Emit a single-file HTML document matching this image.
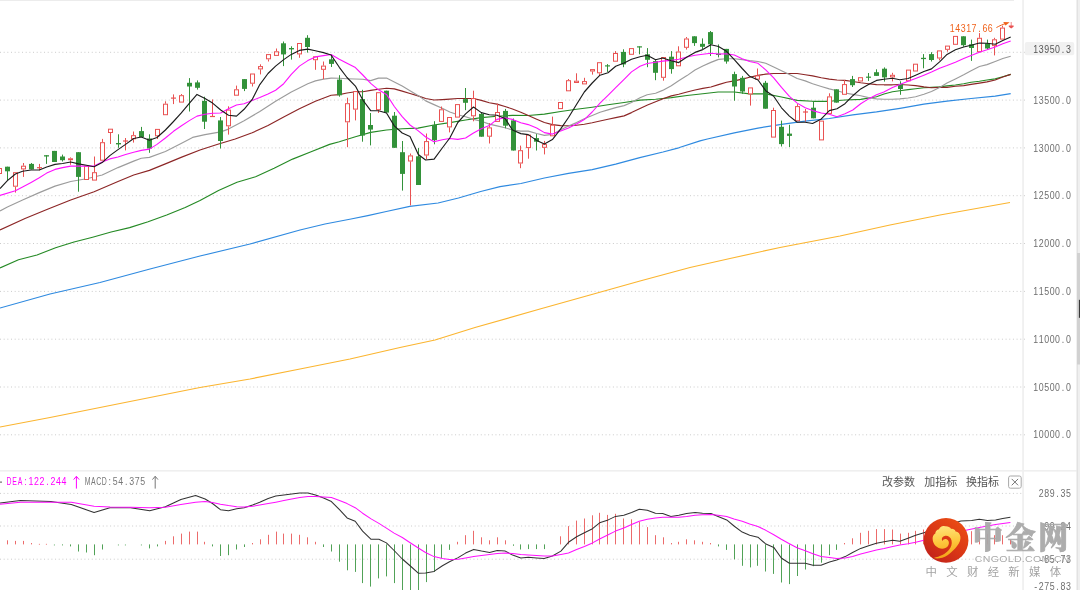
<!DOCTYPE html>
<html lang="zh-CN"><head><meta charset="utf-8"><title>K线图</title>
<style>
html,body{margin:0;padding:0;background:#fff;}
body{width:1080px;height:590px;overflow:hidden;font-family:"Liberation Sans","Noto Sans CJK SC",sans-serif;}
svg{display:block;}
</style></head><body>
<div style="will-change:transform;width:1080px;height:590px"><svg width="1080" height="590" viewBox="0 0 1080 590" font-family="'Liberation Sans', 'Noto Sans CJK SC', sans-serif">
<defs>
<linearGradient id="gc" x1="0.85" y1="0.1" x2="0.2" y2="0.9"><stop offset="0" stop-color="#ea4c14"/><stop offset="0.55" stop-color="#d93616"/><stop offset="1" stop-color="#c4241a"/></linearGradient>
<linearGradient id="gy" x1="0.4" y1="0" x2="0.5" y2="1"><stop offset="0" stop-color="#ffe47a"/><stop offset="0.5" stop-color="#fdc73c"/><stop offset="1" stop-color="#f3a016"/></linearGradient>
</defs>
<rect x="0" y="0" width="1014" height="1" fill="#ececec"/>
<rect x="1022.2" y="0" width="1.7" height="590" fill="#efefef"/>
<rect x="0" y="470" width="1076.5" height="1.6" fill="#efefef"/>
<rect x="1077" y="0" width="3" height="590" fill="#efefef"/>
<rect x="1076.6" y="0" width="1" height="590" fill="#dadada"/>
<rect x="1077" y="253" width="3" height="111.5" fill="#d1d1d1"/>
<rect x="1078.9" y="299.8" width="1.1" height="18" fill="#3a3a3a"/>
<line x1="0" y1="52.3" x2="1026" y2="52.3" stroke="#cbcbcb" stroke-width="1" stroke-dasharray="1 2.67"/>
<line x1="0" y1="100.1" x2="1026" y2="100.1" stroke="#cbcbcb" stroke-width="1" stroke-dasharray="1 2.67"/>
<line x1="0" y1="147.9" x2="1026" y2="147.9" stroke="#cbcbcb" stroke-width="1" stroke-dasharray="1 2.67"/>
<line x1="0" y1="195.7" x2="1026" y2="195.7" stroke="#cbcbcb" stroke-width="1" stroke-dasharray="1 2.67"/>
<line x1="0" y1="243.5" x2="1026" y2="243.5" stroke="#cbcbcb" stroke-width="1" stroke-dasharray="1 2.67"/>
<line x1="0" y1="291.4" x2="1026" y2="291.4" stroke="#cbcbcb" stroke-width="1" stroke-dasharray="1 2.67"/>
<line x1="0" y1="339.2" x2="1026" y2="339.2" stroke="#cbcbcb" stroke-width="1" stroke-dasharray="1 2.67"/>
<line x1="0" y1="387.0" x2="1026" y2="387.0" stroke="#cbcbcb" stroke-width="1" stroke-dasharray="1 2.67"/>
<line x1="0" y1="434.8" x2="1026" y2="434.8" stroke="#cbcbcb" stroke-width="1" stroke-dasharray="1 2.67"/>
<line x1="0" y1="493.4" x2="1022" y2="493.4" stroke="#cbcbcb" stroke-width="1" stroke-dasharray="1 2.67"/>
<line x1="0" y1="526.0" x2="1022" y2="526.0" stroke="#cbcbcb" stroke-width="1" stroke-dasharray="1 2.67"/>
<line x1="0" y1="559.2" x2="1022" y2="559.2" stroke="#cbcbcb" stroke-width="1" stroke-dasharray="1 2.67"/>
<polyline points="0.0,427.0 50.0,417.5 100.0,407.5 150.0,397.5 200.0,387.5 250.0,379.0 300.0,369.0 350.0,359.0 400.0,347.5 435.0,340.0 475.0,327.5 540.0,309.0 590.0,295.0 640.0,281.0 690.0,267.5 730.0,258.5 780.0,247.5 840.0,236.0 890.0,225.0 940.0,215.0 1010.0,202.5" fill="none" stroke="#fbb530" stroke-width="1.15" stroke-linejoin="round" />
<polyline points="0.0,308.0 50.0,294.0 100.0,282.5 150.0,269.0 200.0,256.0 250.0,244.0 300.0,230.0 325.0,224.0 351.0,219.0 367.8,215.6 386.3,211.5 409.8,206.3 438.1,203.0 458.5,198.0 480.7,191.5 500.0,186.7 520.9,183.5 544.4,178.0 568.5,173.3 592.2,169.6 615.7,164.1 639.8,157.6 663.0,152.0 678.7,147.8 700.0,140.9 707.4,139.0 734.3,132.8 758.0,128.1 781.5,124.4 805.2,121.1 829.3,118.5 852.8,114.8 876.5,111.9 900.0,108.3 923.9,104.1 947.0,101.1 971.1,98.5 995.2,96.1 1010.7,93.7" fill="none" stroke="#2f8ae0" stroke-width="1.2" stroke-linejoin="round" />
<polyline points="0.0,268.0 18.5,259.8 37.0,255.0 55.6,247.8 74.0,242.0 92.6,237.2 111.1,232.0 129.6,227.6 148.1,221.7 166.7,215.0 185.2,207.5 200.0,200.5 218.5,190.6 237.0,182.2 255.6,176.7 274.1,168.3 292.6,159.1 311.1,151.7 329.6,144.4 339.3,141.7 355.4,136.7 370.7,132.4 386.5,130.0 402.2,128.7 418.0,128.1 434.0,125.0 449.8,122.6 465.6,120.0 481.3,117.6 497.0,116.3 512.5,115.4 528.3,115.5 544.4,114.1 560.7,111.5 576.5,109.3 592.2,107.2 608.0,104.8 624.1,102.5 640.0,100.1 655.6,99.2 671.3,97.6 687.0,95.5 702.8,93.7 718.1,92.0 734.3,92.0 749.6,93.9 765.7,93.9 781.5,97.0 797.2,100.4 812.6,101.3 829.3,101.3 845.0,100.0 860.7,99.4 876.5,96.7 884.0,94.0 892.5,91.8 899.8,90.8 908.1,89.6 915.6,88.7 923.9,87.8 931.5,87.4 939.6,86.9 947.0,85.9 955.4,85.0 963.7,83.7 971.1,82.2 979.4,81.3 987.0,80.0 995.2,78.9 1002.8,76.7 1010.7,74.4" fill="none" stroke="#258a25" stroke-width="1.15" stroke-linejoin="round" />
<polyline points="0.0,230.0 25.0,218.5 48.1,209.0 70.7,200.0 94.1,191.7 118.0,181.5 133.7,175.0 149.4,170.4 165.4,163.9 181.1,157.4 200.0,150.0 217.0,144.5 235.2,139.0 252.2,132.8 268.0,125.4 283.7,117.0 299.4,108.7 315.4,101.3 331.1,95.2 339.3,94.6 347.0,93.0 355.4,91.7 362.8,91.7 370.7,90.4 378.5,89.3 386.5,88.3 394.3,88.9 402.2,91.1 410.0,93.5 418.0,95.9 425.7,98.5 434.0,100.0 442.2,99.6 449.8,99.1 457.8,98.5 465.6,98.5 473.5,98.5 481.3,100.4 489.3,102.8 497.0,104.1 505.0,106.5 512.5,109.0 520.8,112.2 528.3,115.6 536.7,119.3 544.4,122.5 552.4,124.6 560.7,125.6 568.5,125.8 576.5,125.2 584.3,124.2 592.2,122.8 600.0,121.0 608.0,119.3 615.7,117.6 624.1,115.9 631.5,112.6 640.0,108.5 647.5,105.0 655.6,101.8 663.0,98.8 671.3,95.9 678.7,94.3 687.0,92.0 695.0,90.0 702.8,88.4 710.9,87.0 718.5,84.6 726.5,82.2 734.3,80.9 742.2,79.1 749.6,77.2 758.0,75.4 765.7,74.1 773.7,73.5 781.5,73.5 789.4,73.5 797.2,73.5 805.2,74.8 812.6,75.9 821.3,77.8 829.3,79.1 837.0,80.0 845.0,80.4 852.8,81.5 860.7,82.8 868.5,83.7 876.5,84.6 884.0,84.8 892.5,84.8 899.8,84.5 908.1,85.0 915.6,85.6 923.9,86.9 931.5,87.8 939.6,87.4 947.0,87.4 955.4,86.3 963.7,85.6 971.1,84.4 979.4,83.1 987.0,81.9 995.2,80.0 1002.8,77.0 1010.7,74.4" fill="none" stroke="#8c2626" stroke-width="1.15" stroke-linejoin="round" />
<polyline points="0.0,211.0 7.4,207.0 22.6,200.0 39.3,192.6 55.0,186.1 70.7,181.5 86.5,178.7 102.2,175.0 118.0,167.6 133.7,161.1 141.3,158.3 149.4,157.4 165.4,151.5 181.1,143.5 192.6,137.4 205.0,134.6 220.7,131.9 228.5,129.1 244.1,120.7 259.8,111.5 275.6,101.3 291.3,92.0 307.8,83.7 315.4,80.9 323.5,79.1 331.1,78.1 339.3,78.3 347.0,78.7 362.8,79.3 370.7,80.6 378.5,78.1 386.5,78.1 394.3,81.9 402.2,86.1 410.0,90.7 418.0,95.4 425.7,100.9 434.0,104.6 442.2,108.3 449.8,112.0 457.8,114.8 465.6,116.7 473.5,119.4 481.3,121.3 489.3,124.1 497.0,125.9 505.0,127.8 512.5,130.0 520.8,131.1 528.3,131.1 536.7,133.5 544.4,135.4 552.4,134.4 560.7,129.8 568.5,126.1 576.5,122.6 584.3,118.7 592.2,115.5 600.0,112.2 608.0,109.9 615.7,107.6 624.1,105.6 631.5,102.5 640.0,97.8 647.2,94.8 655.6,93.2 662.6,90.4 671.3,85.7 678.7,80.7 687.0,75.6 695.0,70.0 702.8,66.0 710.9,62.4 718.5,59.4 726.5,58.7 734.3,58.7 742.2,59.6 749.6,60.6 758.0,61.5 765.7,63.3 773.7,67.0 781.5,70.7 789.4,74.4 797.2,78.5 805.2,80.9 812.6,83.7 821.3,86.5 829.3,88.9 837.0,90.7 845.0,93.0 852.8,94.4 860.7,95.7 868.5,97.6 876.5,98.9 884.0,99.2 892.5,99.3 899.8,98.9 908.1,98.0 915.6,96.7 923.9,94.3 931.5,91.5 939.6,87.4 947.0,83.1 955.4,78.9 963.7,74.8 971.1,70.7 979.4,66.5 987.0,64.6 995.2,61.5 1002.8,58.5 1010.7,56.3" fill="none" stroke="#9c9c9c" stroke-width="1.15" stroke-linejoin="round" />
<rect x="-2.5" y="168.5" width="4" height="5.0" fill="#fff" stroke="#e95252" stroke-width="1"/>
<line x1="7.5" y1="166.7" x2="7.5" y2="180.5" stroke="#33923a" stroke-width="1"/>
<rect x="5.0" y="166.7" width="5" height="4.6" fill="#33923a"/>
<line x1="15.5" y1="186.7" x2="15.5" y2="192.6" stroke="#e95252" stroke-width="1"/>
<rect x="13.5" y="172.7" width="4" height="13.5" fill="#fff" stroke="#e95252" stroke-width="1"/>
<line x1="23.5" y1="163.0" x2="23.5" y2="165.7" stroke="#e95252" stroke-width="1"/>
<line x1="23.5" y1="169.4" x2="23.5" y2="176.9" stroke="#e95252" stroke-width="1"/>
<rect x="21.5" y="166.2" width="4" height="2.7" fill="#fff" stroke="#e95252" stroke-width="1"/>
<line x1="31.5" y1="163.0" x2="31.5" y2="169.4" stroke="#33923a" stroke-width="1"/>
<rect x="29.0" y="163.9" width="5" height="5.5" fill="#33923a"/>
<line x1="39.5" y1="163.9" x2="39.5" y2="170.4" stroke="#e95252" stroke-width="1"/>
<line x1="37.0" y1="167.7" x2="42.0" y2="167.7" stroke="#e95252" stroke-width="1.2"/>
<line x1="46.5" y1="155.2" x2="46.5" y2="163.9" stroke="#33923a" stroke-width="1"/>
<rect x="44.0" y="155.2" width="5" height="1.3" fill="#33923a"/>
<line x1="54.5" y1="150.9" x2="54.5" y2="162.0" stroke="#33923a" stroke-width="1"/>
<rect x="52.0" y="150.9" width="5" height="11.1" fill="#33923a"/>
<line x1="62.5" y1="154.6" x2="62.5" y2="161.5" stroke="#33923a" stroke-width="1"/>
<rect x="60.0" y="156.5" width="5" height="3.7" fill="#33923a"/>
<line x1="70.5" y1="157.4" x2="70.5" y2="158.3" stroke="#e95252" stroke-width="1"/>
<line x1="70.5" y1="160.2" x2="70.5" y2="164.8" stroke="#e95252" stroke-width="1"/>
<rect x="68.5" y="158.8" width="4" height="0.9" fill="#fff" stroke="#e95252" stroke-width="1"/>
<line x1="78.5" y1="152.2" x2="78.5" y2="191.7" stroke="#33923a" stroke-width="1"/>
<rect x="76.0" y="152.2" width="5" height="24.7" fill="#33923a"/>
<rect x="84.5" y="166.2" width="4" height="13.3" fill="#fff" stroke="#e95252" stroke-width="1"/>
<line x1="94.5" y1="156.5" x2="94.5" y2="172.2" stroke="#e95252" stroke-width="1"/>
<rect x="92.5" y="172.7" width="4" height="7.4" fill="#fff" stroke="#e95252" stroke-width="1"/>
<line x1="102.5" y1="138.9" x2="102.5" y2="142.2" stroke="#e95252" stroke-width="1"/>
<rect x="100.5" y="142.7" width="4" height="17.5" fill="#fff" stroke="#e95252" stroke-width="1"/>
<line x1="110.5" y1="133.0" x2="110.5" y2="144.0" stroke="#e95252" stroke-width="1"/>
<rect x="108.5" y="129.2" width="4" height="3.3" fill="#fff" stroke="#e95252" stroke-width="1"/>
<line x1="118.5" y1="134.3" x2="118.5" y2="147.8" stroke="#33923a" stroke-width="1"/>
<rect x="116.0" y="143.0" width="5" height="1.4" fill="#33923a"/>
<line x1="125.5" y1="138.0" x2="125.5" y2="150.4" stroke="#e95252" stroke-width="1"/>
<line x1="123.0" y1="141.0" x2="128.0" y2="141.0" stroke="#e95252" stroke-width="1.2"/>
<line x1="133.5" y1="131.5" x2="133.5" y2="135.2" stroke="#e95252" stroke-width="1"/>
<line x1="133.5" y1="139.3" x2="133.5" y2="142.6" stroke="#e95252" stroke-width="1"/>
<rect x="131.5" y="135.7" width="4" height="3.1" fill="#fff" stroke="#e95252" stroke-width="1"/>
<line x1="141.5" y1="126.9" x2="141.5" y2="137.0" stroke="#33923a" stroke-width="1"/>
<rect x="139.0" y="131.1" width="5" height="5.9" fill="#33923a"/>
<line x1="149.5" y1="134.3" x2="149.5" y2="152.8" stroke="#33923a" stroke-width="1"/>
<rect x="147.0" y="138.5" width="5" height="10.0" fill="#33923a"/>
<line x1="157.5" y1="136.3" x2="157.5" y2="139.0" stroke="#e95252" stroke-width="1"/>
<rect x="155.5" y="129.4" width="4" height="6.4" fill="#fff" stroke="#e95252" stroke-width="1"/>
<line x1="165.5" y1="101.3" x2="165.5" y2="103.7" stroke="#e95252" stroke-width="1"/>
<rect x="163.5" y="104.2" width="4" height="10.5" fill="#fff" stroke="#e95252" stroke-width="1"/>
<line x1="173.5" y1="94.4" x2="173.5" y2="104.1" stroke="#e95252" stroke-width="1"/>
<line x1="171.0" y1="98.1" x2="176.0" y2="98.1" stroke="#e95252" stroke-width="1.2"/>
<line x1="181.5" y1="94.0" x2="181.5" y2="95.2" stroke="#e95252" stroke-width="1"/>
<rect x="179.5" y="95.7" width="4" height="6.4" fill="#fff" stroke="#e95252" stroke-width="1"/>
<line x1="189.5" y1="78.1" x2="189.5" y2="111.5" stroke="#33923a" stroke-width="1"/>
<rect x="187.0" y="82.8" width="5" height="3.7" fill="#33923a"/>
<line x1="197.5" y1="80.4" x2="197.5" y2="89.6" stroke="#33923a" stroke-width="1"/>
<rect x="195.0" y="82.4" width="5" height="5.4" fill="#33923a"/>
<line x1="204.5" y1="96.7" x2="204.5" y2="129.0" stroke="#33923a" stroke-width="1"/>
<rect x="202.0" y="100.9" width="5" height="20.8" fill="#33923a"/>
<line x1="212.5" y1="99.4" x2="212.5" y2="117.0" stroke="#e95252" stroke-width="1"/>
<line x1="210.0" y1="116.5" x2="215.0" y2="116.5" stroke="#e95252" stroke-width="1.2"/>
<line x1="220.5" y1="117.0" x2="220.5" y2="148.5" stroke="#33923a" stroke-width="1"/>
<rect x="218.0" y="120.4" width="5" height="20.6" fill="#33923a"/>
<line x1="228.5" y1="106.3" x2="228.5" y2="109.6" stroke="#e95252" stroke-width="1"/>
<line x1="228.5" y1="126.3" x2="228.5" y2="134.6" stroke="#e95252" stroke-width="1"/>
<rect x="226.5" y="110.1" width="4" height="15.7" fill="#fff" stroke="#e95252" stroke-width="1"/>
<line x1="236.5" y1="85.6" x2="236.5" y2="89.3" stroke="#e95252" stroke-width="1"/>
<rect x="234.5" y="89.8" width="4" height="5.4" fill="#fff" stroke="#e95252" stroke-width="1"/>
<line x1="244.5" y1="79.1" x2="244.5" y2="91.1" stroke="#33923a" stroke-width="1"/>
<rect x="242.0" y="79.1" width="5" height="9.8" fill="#33923a"/>
<line x1="252.5" y1="83.7" x2="252.5" y2="86.5" stroke="#e95252" stroke-width="1"/>
<rect x="250.5" y="74.0" width="4" height="9.2" fill="#fff" stroke="#e95252" stroke-width="1"/>
<line x1="260.5" y1="64.3" x2="260.5" y2="66.1" stroke="#e95252" stroke-width="1"/>
<line x1="260.5" y1="69.4" x2="260.5" y2="74.4" stroke="#e95252" stroke-width="1"/>
<rect x="258.5" y="66.6" width="4" height="2.3" fill="#fff" stroke="#e95252" stroke-width="1"/>
<line x1="268.5" y1="59.3" x2="268.5" y2="61.5" stroke="#e95252" stroke-width="1"/>
<rect x="266.5" y="54.6" width="4" height="4.2" fill="#fff" stroke="#e95252" stroke-width="1"/>
<line x1="276.5" y1="48.5" x2="276.5" y2="51.3" stroke="#e95252" stroke-width="1"/>
<rect x="274.5" y="51.8" width="4" height="3.6" fill="#fff" stroke="#e95252" stroke-width="1"/>
<line x1="283.5" y1="41.5" x2="283.5" y2="66.1" stroke="#33923a" stroke-width="1"/>
<rect x="281.0" y="43.3" width="5" height="11.1" fill="#33923a"/>
<line x1="291.5" y1="46.3" x2="291.5" y2="59.6" stroke="#33923a" stroke-width="1"/>
<rect x="289.0" y="48.0" width="5" height="1.4" fill="#33923a"/>
<line x1="299.5" y1="54.4" x2="299.5" y2="57.8" stroke="#e95252" stroke-width="1"/>
<rect x="297.5" y="43.5" width="4" height="10.4" fill="#fff" stroke="#e95252" stroke-width="1"/>
<line x1="307.5" y1="35.2" x2="307.5" y2="52.6" stroke="#33923a" stroke-width="1"/>
<rect x="305.0" y="37.8" width="5" height="9.2" fill="#33923a"/>
<line x1="315.5" y1="60.2" x2="315.5" y2="69.8" stroke="#e95252" stroke-width="1"/>
<rect x="313.5" y="56.8" width="4" height="2.9" fill="#fff" stroke="#e95252" stroke-width="1"/>
<line x1="323.5" y1="61.5" x2="323.5" y2="65.6" stroke="#e95252" stroke-width="1"/>
<line x1="323.5" y1="69.8" x2="323.5" y2="79.1" stroke="#e95252" stroke-width="1"/>
<rect x="321.5" y="66.1" width="4" height="3.2" fill="#fff" stroke="#e95252" stroke-width="1"/>
<line x1="331.5" y1="55.0" x2="331.5" y2="67.0" stroke="#33923a" stroke-width="1"/>
<rect x="329.0" y="59.3" width="5" height="4.6" fill="#33923a"/>
<line x1="339.5" y1="75.2" x2="339.5" y2="96.7" stroke="#33923a" stroke-width="1"/>
<rect x="337.0" y="79.6" width="5" height="15.7" fill="#33923a"/>
<line x1="347.5" y1="97.7" x2="347.5" y2="103.2" stroke="#e95252" stroke-width="1"/>
<line x1="347.5" y1="122.3" x2="347.5" y2="147.2" stroke="#e95252" stroke-width="1"/>
<rect x="345.5" y="103.7" width="4" height="18.1" fill="#fff" stroke="#e95252" stroke-width="1"/>
<line x1="355.5" y1="109.6" x2="355.5" y2="120.4" stroke="#e95252" stroke-width="1"/>
<rect x="353.5" y="91.6" width="4" height="17.5" fill="#fff" stroke="#e95252" stroke-width="1"/>
<line x1="362.5" y1="89.8" x2="362.5" y2="141.7" stroke="#33923a" stroke-width="1"/>
<rect x="360.0" y="99.1" width="5" height="36.5" fill="#33923a"/>
<line x1="370.5" y1="113.0" x2="370.5" y2="145.4" stroke="#33923a" stroke-width="1"/>
<rect x="368.0" y="125.0" width="5" height="4.6" fill="#33923a"/>
<line x1="378.5" y1="110.2" x2="378.5" y2="113.0" stroke="#e95252" stroke-width="1"/>
<rect x="376.5" y="92.7" width="4" height="17.0" fill="#fff" stroke="#e95252" stroke-width="1"/>
<line x1="386.5" y1="90.7" x2="386.5" y2="112.6" stroke="#33923a" stroke-width="1"/>
<rect x="384.0" y="90.7" width="5" height="21.9" fill="#33923a"/>
<line x1="394.5" y1="112.0" x2="394.5" y2="147.8" stroke="#33923a" stroke-width="1"/>
<rect x="392.0" y="115.7" width="5" height="32.1" fill="#33923a"/>
<line x1="402.5" y1="141.0" x2="402.5" y2="190.6" stroke="#33923a" stroke-width="1"/>
<rect x="400.0" y="152.2" width="5" height="21.7" fill="#33923a"/>
<line x1="410.5" y1="153.5" x2="410.5" y2="155.4" stroke="#e95252" stroke-width="1"/>
<line x1="410.5" y1="161.5" x2="410.5" y2="205.4" stroke="#e95252" stroke-width="1"/>
<rect x="408.5" y="155.9" width="4" height="5.1" fill="#fff" stroke="#e95252" stroke-width="1"/>
<line x1="418.5" y1="148.0" x2="418.5" y2="185.0" stroke="#33923a" stroke-width="1"/>
<rect x="416.0" y="156.3" width="5" height="28.7" fill="#33923a"/>
<line x1="426.5" y1="133.5" x2="426.5" y2="141.1" stroke="#e95252" stroke-width="1"/>
<line x1="426.5" y1="155.5" x2="426.5" y2="159.1" stroke="#e95252" stroke-width="1"/>
<rect x="424.5" y="141.6" width="4" height="13.4" fill="#fff" stroke="#e95252" stroke-width="1"/>
<line x1="434.5" y1="121.2" x2="434.5" y2="144.3" stroke="#33923a" stroke-width="1"/>
<rect x="432.0" y="124.9" width="5" height="15.3" fill="#33923a"/>
<line x1="441.5" y1="106.5" x2="441.5" y2="109.3" stroke="#e95252" stroke-width="1"/>
<rect x="439.5" y="109.8" width="4" height="11.6" fill="#fff" stroke="#e95252" stroke-width="1"/>
<line x1="449.5" y1="127.4" x2="449.5" y2="132.4" stroke="#e95252" stroke-width="1"/>
<rect x="447.5" y="117.5" width="4" height="9.4" fill="#fff" stroke="#e95252" stroke-width="1"/>
<rect x="455.5" y="104.6" width="4" height="12.5" fill="#fff" stroke="#e95252" stroke-width="1"/>
<line x1="465.5" y1="88.0" x2="465.5" y2="110.2" stroke="#33923a" stroke-width="1"/>
<rect x="463.0" y="99.1" width="5" height="3.7" fill="#33923a"/>
<line x1="473.5" y1="90.7" x2="473.5" y2="98.1" stroke="#e95252" stroke-width="1"/>
<line x1="473.5" y1="116.3" x2="473.5" y2="121.3" stroke="#e95252" stroke-width="1"/>
<rect x="471.5" y="98.6" width="4" height="17.2" fill="#fff" stroke="#e95252" stroke-width="1"/>
<line x1="481.5" y1="112.0" x2="481.5" y2="136.7" stroke="#33923a" stroke-width="1"/>
<rect x="479.0" y="113.9" width="5" height="22.8" fill="#33923a"/>
<line x1="489.5" y1="123.1" x2="489.5" y2="127.4" stroke="#e95252" stroke-width="1"/>
<line x1="489.5" y1="136.7" x2="489.5" y2="143.5" stroke="#e95252" stroke-width="1"/>
<rect x="487.5" y="127.9" width="4" height="8.3" fill="#fff" stroke="#e95252" stroke-width="1"/>
<line x1="497.5" y1="103.7" x2="497.5" y2="112.0" stroke="#e95252" stroke-width="1"/>
<rect x="495.5" y="112.5" width="4" height="8.9" fill="#fff" stroke="#e95252" stroke-width="1"/>
<line x1="505.5" y1="108.9" x2="505.5" y2="128.3" stroke="#33923a" stroke-width="1"/>
<rect x="503.0" y="110.9" width="5" height="14.8" fill="#33923a"/>
<line x1="513.5" y1="118.5" x2="513.5" y2="150.5" stroke="#33923a" stroke-width="1"/>
<rect x="511.0" y="120.4" width="5" height="30.1" fill="#33923a"/>
<line x1="520.5" y1="145.6" x2="520.5" y2="150.2" stroke="#e95252" stroke-width="1"/>
<line x1="520.5" y1="163.5" x2="520.5" y2="168.2" stroke="#e95252" stroke-width="1"/>
<rect x="518.5" y="150.7" width="4" height="12.3" fill="#fff" stroke="#e95252" stroke-width="1"/>
<line x1="528.5" y1="148.1" x2="528.5" y2="158.7" stroke="#e95252" stroke-width="1"/>
<rect x="526.5" y="135.1" width="4" height="12.5" fill="#fff" stroke="#e95252" stroke-width="1"/>
<line x1="536.5" y1="134.1" x2="536.5" y2="150.5" stroke="#33923a" stroke-width="1"/>
<rect x="534.0" y="138.1" width="5" height="3.6" fill="#33923a"/>
<line x1="544.5" y1="140.9" x2="544.5" y2="144.1" stroke="#e95252" stroke-width="1"/>
<line x1="544.5" y1="147.8" x2="544.5" y2="154.4" stroke="#e95252" stroke-width="1"/>
<rect x="542.5" y="144.6" width="4" height="2.7" fill="#fff" stroke="#e95252" stroke-width="1"/>
<line x1="552.5" y1="116.6" x2="552.5" y2="124.7" stroke="#e95252" stroke-width="1"/>
<rect x="550.5" y="125.2" width="4" height="10.6" fill="#fff" stroke="#e95252" stroke-width="1"/>
<rect x="558.5" y="102.5" width="4" height="6.1" fill="#fff" stroke="#e95252" stroke-width="1"/>
<line x1="568.5" y1="79.0" x2="568.5" y2="80.2" stroke="#e95252" stroke-width="1"/>
<rect x="566.5" y="80.7" width="4" height="10.1" fill="#fff" stroke="#e95252" stroke-width="1"/>
<line x1="576.5" y1="73.3" x2="576.5" y2="80.7" stroke="#e95252" stroke-width="1"/>
<rect x="574.5" y="81.2" width="4" height="1.3" fill="#fff" stroke="#e95252" stroke-width="1"/>
<line x1="584.5" y1="77.8" x2="584.5" y2="81.1" stroke="#e95252" stroke-width="1"/>
<rect x="582.5" y="81.6" width="4" height="2.3" fill="#fff" stroke="#e95252" stroke-width="1"/>
<line x1="592.5" y1="71.5" x2="592.5" y2="74.6" stroke="#e95252" stroke-width="1"/>
<rect x="590.5" y="69.6" width="4" height="1.4" fill="#fff" stroke="#e95252" stroke-width="1"/>
<line x1="599.5" y1="73.3" x2="599.5" y2="75.2" stroke="#e95252" stroke-width="1"/>
<rect x="597.5" y="62.7" width="4" height="10.1" fill="#fff" stroke="#e95252" stroke-width="1"/>
<line x1="607.5" y1="64.1" x2="607.5" y2="71.9" stroke="#33923a" stroke-width="1"/>
<line x1="605.0" y1="65.9" x2="610.0" y2="65.9" stroke="#33923a" stroke-width="1.2"/>
<line x1="615.5" y1="51.1" x2="615.5" y2="53.0" stroke="#e95252" stroke-width="1"/>
<rect x="613.5" y="53.5" width="4" height="7.7" fill="#fff" stroke="#e95252" stroke-width="1"/>
<line x1="623.5" y1="49.3" x2="623.5" y2="67.2" stroke="#33923a" stroke-width="1"/>
<rect x="621.0" y="51.9" width="5" height="12.5" fill="#33923a"/>
<rect x="629.5" y="48.6" width="4" height="5.7" fill="#fff" stroke="#e95252" stroke-width="1"/>
<line x1="639.5" y1="46.4" x2="639.5" y2="54.3" stroke="#33923a" stroke-width="1"/>
<line x1="637.0" y1="46.9" x2="642.0" y2="46.9" stroke="#33923a" stroke-width="1.2"/>
<line x1="647.5" y1="48.1" x2="647.5" y2="67.2" stroke="#33923a" stroke-width="1"/>
<rect x="645.0" y="54.3" width="5" height="5.5" fill="#33923a"/>
<line x1="655.5" y1="59.3" x2="655.5" y2="80.2" stroke="#33923a" stroke-width="1"/>
<rect x="653.0" y="61.1" width="5" height="11.7" fill="#33923a"/>
<line x1="663.5" y1="77.8" x2="663.5" y2="80.7" stroke="#e95252" stroke-width="1"/>
<rect x="661.5" y="57.5" width="4" height="19.8" fill="#fff" stroke="#e95252" stroke-width="1"/>
<line x1="671.5" y1="51.1" x2="671.5" y2="73.7" stroke="#33923a" stroke-width="1"/>
<rect x="669.0" y="56.7" width="5" height="12.4" fill="#33923a"/>
<line x1="678.5" y1="46.3" x2="678.5" y2="51.5" stroke="#e95252" stroke-width="1"/>
<rect x="676.5" y="52.0" width="4" height="13.8" fill="#fff" stroke="#e95252" stroke-width="1"/>
<line x1="686.5" y1="37.0" x2="686.5" y2="38.5" stroke="#e95252" stroke-width="1"/>
<line x1="686.5" y1="47.8" x2="686.5" y2="49.6" stroke="#e95252" stroke-width="1"/>
<rect x="684.5" y="39.0" width="4" height="8.3" fill="#fff" stroke="#e95252" stroke-width="1"/>
<line x1="694.5" y1="36.3" x2="694.5" y2="45.9" stroke="#33923a" stroke-width="1"/>
<rect x="692.0" y="36.3" width="5" height="6.8" fill="#33923a"/>
<line x1="702.5" y1="38.4" x2="702.5" y2="49.0" stroke="#33923a" stroke-width="1"/>
<rect x="700.0" y="43.8" width="5" height="3.0" fill="#33923a"/>
<line x1="710.5" y1="31.0" x2="710.5" y2="56.0" stroke="#33923a" stroke-width="1"/>
<rect x="708.0" y="32.1" width="5" height="12.2" fill="#33923a"/>
<line x1="718.5" y1="44.4" x2="718.5" y2="57.4" stroke="#33923a" stroke-width="1"/>
<rect x="716.0" y="53.7" width="5" height="1.3" fill="#33923a"/>
<line x1="726.5" y1="48.9" x2="726.5" y2="63.7" stroke="#33923a" stroke-width="1"/>
<rect x="724.0" y="48.9" width="5" height="12.6" fill="#33923a"/>
<line x1="734.5" y1="71.7" x2="734.5" y2="100.7" stroke="#33923a" stroke-width="1"/>
<rect x="732.0" y="74.1" width="5" height="12.4" fill="#33923a"/>
<line x1="742.5" y1="75.9" x2="742.5" y2="93.9" stroke="#33923a" stroke-width="1"/>
<rect x="740.0" y="77.8" width="5" height="13.7" fill="#33923a"/>
<line x1="750.5" y1="94.4" x2="750.5" y2="105.6" stroke="#e95252" stroke-width="1"/>
<rect x="748.5" y="87.9" width="4" height="6.0" fill="#fff" stroke="#e95252" stroke-width="1"/>
<line x1="757.5" y1="68.5" x2="757.5" y2="75.4" stroke="#e95252" stroke-width="1"/>
<rect x="755.5" y="75.9" width="4" height="3.2" fill="#fff" stroke="#e95252" stroke-width="1"/>
<line x1="765.5" y1="80.9" x2="765.5" y2="108.7" stroke="#33923a" stroke-width="1"/>
<rect x="763.0" y="82.8" width="5" height="25.9" fill="#33923a"/>
<line x1="773.5" y1="107.7" x2="773.5" y2="110.0" stroke="#e95252" stroke-width="1"/>
<rect x="771.5" y="110.5" width="4" height="26.6" fill="#fff" stroke="#e95252" stroke-width="1"/>
<line x1="781.5" y1="120.6" x2="781.5" y2="146.5" stroke="#33923a" stroke-width="1"/>
<rect x="779.0" y="126.8" width="5" height="17.3" fill="#33923a"/>
<line x1="789.5" y1="124.8" x2="789.5" y2="147.0" stroke="#33923a" stroke-width="1"/>
<rect x="787.0" y="133.6" width="5" height="2.3" fill="#33923a"/>
<line x1="797.5" y1="104.1" x2="797.5" y2="106.1" stroke="#e95252" stroke-width="1"/>
<rect x="795.5" y="106.6" width="4" height="14.2" fill="#fff" stroke="#e95252" stroke-width="1"/>
<line x1="805.5" y1="109.0" x2="805.5" y2="121.6" stroke="#e95252" stroke-width="1"/>
<line x1="803.0" y1="112.0" x2="808.0" y2="112.0" stroke="#e95252" stroke-width="1.2"/>
<line x1="813.5" y1="101.2" x2="813.5" y2="118.3" stroke="#33923a" stroke-width="1"/>
<rect x="811.0" y="107.7" width="5" height="10.6" fill="#33923a"/>
<rect x="819.5" y="121.1" width="4" height="18.8" fill="#fff" stroke="#e95252" stroke-width="1"/>
<line x1="829.5" y1="93.3" x2="829.5" y2="96.4" stroke="#e95252" stroke-width="1"/>
<rect x="827.5" y="96.9" width="4" height="16.5" fill="#fff" stroke="#e95252" stroke-width="1"/>
<line x1="836.5" y1="89.3" x2="836.5" y2="102.6" stroke="#33923a" stroke-width="1"/>
<rect x="834.0" y="89.3" width="5" height="13.3" fill="#33923a"/>
<line x1="844.5" y1="80.0" x2="844.5" y2="84.1" stroke="#e95252" stroke-width="1"/>
<rect x="842.5" y="84.6" width="4" height="9.7" fill="#fff" stroke="#e95252" stroke-width="1"/>
<line x1="852.5" y1="75.9" x2="852.5" y2="87.0" stroke="#33923a" stroke-width="1"/>
<rect x="850.0" y="79.1" width="5" height="6.1" fill="#33923a"/>
<rect x="858.5" y="77.7" width="4" height="3.3" fill="#fff" stroke="#e95252" stroke-width="1"/>
<line x1="868.5" y1="73.0" x2="868.5" y2="80.9" stroke="#33923a" stroke-width="1"/>
<line x1="866.0" y1="77.2" x2="871.0" y2="77.2" stroke="#33923a" stroke-width="1.2"/>
<line x1="876.5" y1="69.3" x2="876.5" y2="75.9" stroke="#33923a" stroke-width="1"/>
<rect x="874.0" y="72.2" width="5" height="3.7" fill="#33923a"/>
<line x1="884.5" y1="67.4" x2="884.5" y2="81.6" stroke="#33923a" stroke-width="1"/>
<rect x="882.0" y="68.7" width="5" height="8.7" fill="#33923a"/>
<line x1="892.5" y1="72.8" x2="892.5" y2="74.8" stroke="#e95252" stroke-width="1"/>
<line x1="892.5" y1="77.4" x2="892.5" y2="81.4" stroke="#e95252" stroke-width="1"/>
<rect x="890.5" y="75.3" width="4" height="1.6" fill="#fff" stroke="#e95252" stroke-width="1"/>
<line x1="900.5" y1="81.3" x2="900.5" y2="94.8" stroke="#33923a" stroke-width="1"/>
<rect x="898.0" y="83.9" width="5" height="5.1" fill="#33923a"/>
<rect x="906.5" y="70.1" width="4" height="10.7" fill="#fff" stroke="#e95252" stroke-width="1"/>
<rect x="913.5" y="64.2" width="4" height="6.8" fill="#fff" stroke="#e95252" stroke-width="1"/>
<line x1="923.5" y1="54.1" x2="923.5" y2="68.3" stroke="#33923a" stroke-width="1"/>
<rect x="921.0" y="57.8" width="5" height="1.3" fill="#33923a"/>
<line x1="931.5" y1="52.2" x2="931.5" y2="61.5" stroke="#33923a" stroke-width="1"/>
<rect x="929.0" y="54.1" width="5" height="5.9" fill="#33923a"/>
<line x1="939.5" y1="58.5" x2="939.5" y2="60.4" stroke="#e95252" stroke-width="1"/>
<rect x="937.5" y="50.9" width="4" height="7.1" fill="#fff" stroke="#e95252" stroke-width="1"/>
<line x1="947.5" y1="49.8" x2="947.5" y2="51.7" stroke="#e95252" stroke-width="1"/>
<rect x="945.5" y="46.1" width="4" height="3.2" fill="#fff" stroke="#e95252" stroke-width="1"/>
<rect x="953.5" y="36.4" width="4" height="7.9" fill="#fff" stroke="#e95252" stroke-width="1"/>
<line x1="963.5" y1="36.3" x2="963.5" y2="46.7" stroke="#33923a" stroke-width="1"/>
<rect x="961.0" y="36.3" width="5" height="8.9" fill="#33923a"/>
<line x1="971.5" y1="39.6" x2="971.5" y2="60.9" stroke="#33923a" stroke-width="1"/>
<rect x="969.0" y="44.3" width="5" height="3.7" fill="#33923a"/>
<line x1="979.5" y1="33.1" x2="979.5" y2="37.8" stroke="#e95252" stroke-width="1"/>
<rect x="977.5" y="38.3" width="4" height="13.4" fill="#fff" stroke="#e95252" stroke-width="1"/>
<line x1="987.5" y1="39.6" x2="987.5" y2="49.8" stroke="#33923a" stroke-width="1"/>
<rect x="985.0" y="43.3" width="5" height="5.2" fill="#33923a"/>
<line x1="994.5" y1="37.8" x2="994.5" y2="39.3" stroke="#e95252" stroke-width="1"/>
<line x1="994.5" y1="46.1" x2="994.5" y2="55.4" stroke="#e95252" stroke-width="1"/>
<rect x="992.5" y="39.8" width="4" height="5.8" fill="#fff" stroke="#e95252" stroke-width="1"/>
<line x1="1002.5" y1="25.7" x2="1002.5" y2="27.6" stroke="#e95252" stroke-width="1"/>
<rect x="1000.5" y="28.1" width="4" height="11.0" fill="#fff" stroke="#e95252" stroke-width="1"/>
<line x1="1011.2" y1="22" x2="1011.2" y2="26" stroke="#f08a8a" stroke-width="1"/>
<path d="M1008.8,25.6 h4.8 v1.2 l-2.4,1.6 l-2.4,-1.6z" fill="#e95252"/>
<polyline points="0.0,195.4 15.4,190.7 22.6,187.0 31.1,182.4 39.3,177.8 46.7,173.1 55.0,169.4 62.6,167.6 70.7,166.1 78.5,166.1 86.5,166.1 94.1,166.1 102.2,162.0 109.8,158.9 118.0,157.0 125.6,154.6 133.7,152.2 141.3,150.4 149.4,149.1 157.0,144.4 165.4,138.0 173.5,131.3 181.1,126.0 189.3,120.6 197.0,116.1 205.0,114.3 212.6,113.3 220.7,113.0 228.5,108.7 236.5,105.0 244.1,103.7 252.2,100.4 259.8,97.6 268.0,93.9 275.6,90.2 283.7,83.7 291.3,74.4 299.4,66.1 307.8,60.6 315.4,56.9 323.5,55.6 331.1,54.5 339.3,59.2 347.0,63.3 355.4,67.6 362.8,75.0 370.7,83.3 378.5,89.8 386.5,94.4 394.3,106.5 402.2,116.7 410.0,125.0 418.0,130.6 425.7,137.0 434.0,141.7 442.2,139.8 449.8,138.5 457.8,139.4 465.6,138.0 473.5,133.0 481.3,128.7 489.3,125.6 497.0,119.4 505.0,117.8 512.5,119.4 520.8,122.8 528.2,124.6 536.7,128.0 544.4,132.6 552.4,134.1 560.7,131.1 568.5,128.0 576.5,124.0 584.3,119.6 592.2,112.0 600.0,103.2 608.0,95.3 615.7,87.6 624.1,79.3 631.5,71.9 640.0,66.3 647.2,63.5 655.6,62.2 662.6,61.1 671.3,60.4 678.7,59.3 687.0,57.0 695.0,55.2 702.8,54.2 710.9,53.2 718.5,54.0 726.5,53.7 734.3,55.0 742.2,58.7 749.6,61.5 758.0,63.3 765.7,69.8 773.7,77.8 781.5,87.4 789.4,96.3 797.2,103.1 805.2,107.8 812.6,110.6 821.3,113.0 829.3,114.3 837.0,116.7 845.0,113.7 852.8,110.0 860.7,103.7 868.5,98.9 876.5,94.8 883.9,92.0 892.5,87.6 899.8,84.5 908.1,81.3 915.6,78.5 923.9,75.2 931.5,72.0 939.6,68.3 947.0,65.6 955.4,62.2 963.7,58.5 971.1,55.4 979.4,52.2 987.0,49.8 995.2,47.0 1002.8,43.7 1010.7,41.1" fill="none" stroke="#ff10ff" stroke-width="1.1" stroke-linejoin="round" />
<polyline points="0.0,188.5 7.4,180.6 15.4,174.0 22.6,171.3 31.1,170.0 39.3,170.0 46.7,167.0 55.0,164.4 62.6,163.5 70.7,162.0 78.5,163.9 86.5,165.2 94.1,166.7 102.2,162.6 109.8,155.6 118.0,149.6 125.6,144.4 133.7,138.5 141.3,137.0 149.4,140.2 157.0,137.5 165.4,130.0 173.5,121.5 181.1,113.2 189.3,103.4 197.0,94.4 205.0,98.5 212.6,103.1 220.7,110.0 228.5,115.2 236.5,116.1 244.1,109.3 252.2,99.4 259.8,84.6 268.0,73.5 275.6,66.1 283.7,59.6 291.3,54.4 299.4,50.4 307.8,49.1 315.4,50.7 323.5,52.6 331.1,55.0 339.3,67.3 347.0,77.5 355.4,86.1 362.8,100.0 370.7,110.7 378.5,110.7 386.5,113.0 394.3,125.9 402.2,133.0 410.0,136.5 418.3,154.5 425.6,160.0 434.1,159.1 441.9,148.5 449.8,138.0 457.8,122.5 465.6,113.9 473.5,107.0 481.3,112.6 489.3,114.8 497.0,115.2 505.0,118.5 512.5,130.0 520.8,133.6 528.2,134.6 536.7,140.4 544.4,144.1 552.4,139.6 560.7,128.9 568.5,117.5 576.5,104.5 584.3,92.0 592.2,83.0 600.0,75.2 608.0,72.8 615.7,66.3 624.1,63.0 631.5,59.3 640.0,56.7 647.2,55.2 655.6,59.8 662.6,58.0 671.3,60.7 678.7,62.6 687.0,57.0 695.0,52.4 702.8,49.6 710.9,44.7 718.5,46.5 726.5,51.3 734.3,59.6 742.2,68.5 749.6,76.3 758.0,80.0 765.7,90.7 773.7,96.3 781.5,107.8 789.4,116.1 797.2,122.2 805.2,122.2 812.6,123.5 821.3,118.9 829.3,110.6 837.0,108.7 845.0,103.7 852.8,95.7 860.7,88.9 868.5,84.6 876.5,80.4 883.9,79.2 892.5,78.2 899.8,79.8 908.1,78.5 915.6,75.2 923.9,71.5 931.5,68.9 939.6,61.9 947.0,54.4 955.4,49.8 963.7,47.0 971.1,45.2 979.4,43.0 987.0,43.3 995.2,44.3 1002.8,40.6 1010.7,36.9" fill="none" stroke="#1c1c1c" stroke-width="1.15" stroke-linejoin="round" />
<text transform="scale(0.84,1)" x="1133.71 1140.17 1146.64 1153.10 1159.57 1166.03 1172.49 1178.96" y="31.6" fill="#f0611a" font-size="10.5" text-anchor="middle" >14317.66</text>
<path d="M996.4,27.6 C999.5,25.8 1003,24.2 1006.5,23.4" fill="none" stroke="#f0611a" stroke-width="1"/>
<path d="M1003.2,22.1 L1009.6,22.2 L1005.6,25.6z" fill="#f0611a"/>
<rect x="1024.8" y="42" width="49.4" height="13.2" rx="2" fill="#f1f1f1"/>
<text transform="scale(0.84,1)" x="1233.07 1239.55 1246.04 1252.53 1259.02 1265.51 1271.99" y="52.9" fill="#555" font-size="10.5" text-anchor="middle" >13950.3</text>
<text transform="scale(0.84,1)" x="1233.07 1239.55 1246.04 1252.53 1259.02 1265.51 1271.99" y="103.71" fill="#6e6e6e" font-size="10.5" text-anchor="middle" >13500.0</text>
<text transform="scale(0.84,1)" x="1233.07 1239.55 1246.04 1252.53 1259.02 1265.51 1271.99" y="151.52" fill="#6e6e6e" font-size="10.5" text-anchor="middle" >13000.0</text>
<text transform="scale(0.84,1)" x="1233.07 1239.55 1246.04 1252.53 1259.02 1265.51 1271.99" y="199.33" fill="#6e6e6e" font-size="10.5" text-anchor="middle" >12500.0</text>
<text transform="scale(0.84,1)" x="1233.07 1239.55 1246.04 1252.53 1259.02 1265.51 1271.99" y="247.14000000000001" fill="#6e6e6e" font-size="10.5" text-anchor="middle" >12000.0</text>
<text transform="scale(0.84,1)" x="1233.07 1239.55 1246.04 1252.53 1259.02 1265.51 1271.99" y="294.95000000000005" fill="#6e6e6e" font-size="10.5" text-anchor="middle" >11500.0</text>
<text transform="scale(0.84,1)" x="1233.07 1239.55 1246.04 1252.53 1259.02 1265.51 1271.99" y="342.76000000000005" fill="#6e6e6e" font-size="10.5" text-anchor="middle" >11000.0</text>
<text transform="scale(0.84,1)" x="1233.07 1239.55 1246.04 1252.53 1259.02 1265.51 1271.99" y="390.57000000000005" fill="#6e6e6e" font-size="10.5" text-anchor="middle" >10500.0</text>
<text transform="scale(0.84,1)" x="1233.07 1239.55 1246.04 1252.53 1259.02 1265.51 1271.99" y="438.38000000000005" fill="#6e6e6e" font-size="10.5" text-anchor="middle" >10000.0</text>
<rect x="0" y="481.6" width="2" height="1" fill="#555"/>
<text transform="scale(0.66,1)" x="13.71 22.05 30.38" y="485.5" fill="#ff00ff" font-size="10.5" text-anchor="middle" >DEA</text>
<text transform="scale(0.84,1)" x="30.42 36.96 43.51 50.06 56.61 63.15 69.70 76.25" y="485.5" fill="#ff00ff" font-size="10.5" text-anchor="middle" >:122.244</text>
<path d="M76.4,476.3 V488.6 M73.6,479.6 L76.4,476.3 L79.2,479.6" fill="none" stroke="#ff00ff" stroke-width="1"/>
<text transform="scale(0.66,1)" x="132.95 141.29 149.62 157.95" y="485.5" fill="#777" font-size="10.5" text-anchor="middle" >MACD</text>
<text transform="scale(0.84,1)" x="130.65 137.20 143.75 150.30 156.85 163.39 169.94" y="485.5" fill="#777" font-size="10.5" text-anchor="middle" >:54.375</text>
<path d="M155.2,476.3 V488.6 M152.4,479.6 L155.2,476.3 L158,479.6" fill="none" stroke="#777" stroke-width="1"/>
<line x1="7.5" y1="544.4" x2="7.5" y2="540.3" stroke="#e95252" stroke-width="1" opacity="0.85"/>
<line x1="15.5" y1="544.4" x2="15.5" y2="540.9" stroke="#e95252" stroke-width="1" opacity="0.85"/>
<line x1="23.5" y1="544.4" x2="23.5" y2="540.9" stroke="#e95252" stroke-width="1" opacity="0.85"/>
<line x1="31.5" y1="544.4" x2="31.5" y2="543.0" stroke="#e95252" stroke-width="1" opacity="0.85"/>
<rect x="38.9" y="543.8" width="1.1" height="1.1" fill="#e95252" opacity="0.6"/>
<rect x="45.9" y="543.8" width="1.1" height="1.1" fill="#e95252" opacity="0.6"/>
<rect x="53.9" y="544.4" width="1.1" height="1.1" fill="#33923a" opacity="0.6"/>
<line x1="62.5" y1="544.4" x2="62.5" y2="545.4" stroke="#33923a" stroke-width="1" opacity="0.85"/>
<line x1="70.5" y1="544.4" x2="70.5" y2="546.4" stroke="#33923a" stroke-width="1" opacity="0.85"/>
<line x1="78.5" y1="544.4" x2="78.5" y2="551.5" stroke="#33923a" stroke-width="1" opacity="0.85"/>
<line x1="86.5" y1="544.4" x2="86.5" y2="552.5" stroke="#33923a" stroke-width="1" opacity="0.85"/>
<line x1="94.5" y1="544.4" x2="94.5" y2="555.2" stroke="#33923a" stroke-width="1" opacity="0.85"/>
<line x1="102.5" y1="544.4" x2="102.5" y2="549.5" stroke="#33923a" stroke-width="1" opacity="0.85"/>
<rect x="117.9" y="544.4" width="1.1" height="1.1" fill="#33923a" opacity="0.6"/>
<rect x="124.9" y="544.4" width="1.1" height="1.1" fill="#33923a" opacity="0.6"/>
<rect x="140.9" y="544.4" width="1.1" height="1.1" fill="#33923a" opacity="0.6"/>
<line x1="149.5" y1="544.4" x2="149.5" y2="548.4" stroke="#33923a" stroke-width="1" opacity="0.85"/>
<line x1="157.5" y1="544.4" x2="157.5" y2="546.4" stroke="#33923a" stroke-width="1" opacity="0.85"/>
<line x1="165.5" y1="544.4" x2="165.5" y2="540.9" stroke="#e95252" stroke-width="1" opacity="0.85"/>
<line x1="173.5" y1="544.4" x2="173.5" y2="536.3" stroke="#e95252" stroke-width="1" opacity="0.85"/>
<line x1="181.5" y1="544.4" x2="181.5" y2="533.6" stroke="#e95252" stroke-width="1" opacity="0.85"/>
<line x1="189.5" y1="544.4" x2="189.5" y2="531.6" stroke="#e95252" stroke-width="1" opacity="0.85"/>
<line x1="197.5" y1="544.4" x2="197.5" y2="531.6" stroke="#e95252" stroke-width="1" opacity="0.85"/>
<line x1="204.5" y1="544.4" x2="204.5" y2="541.8" stroke="#e95252" stroke-width="1" opacity="0.85"/>
<line x1="212.5" y1="544.4" x2="212.5" y2="546.4" stroke="#33923a" stroke-width="1" opacity="0.85"/>
<line x1="220.5" y1="544.4" x2="220.5" y2="556.0" stroke="#33923a" stroke-width="1" opacity="0.85"/>
<line x1="228.5" y1="544.4" x2="228.5" y2="555.2" stroke="#33923a" stroke-width="1" opacity="0.85"/>
<line x1="236.5" y1="544.4" x2="236.5" y2="549.5" stroke="#33923a" stroke-width="1" opacity="0.85"/>
<line x1="244.5" y1="544.4" x2="244.5" y2="547.0" stroke="#33923a" stroke-width="1" opacity="0.85"/>
<line x1="252.5" y1="544.4" x2="252.5" y2="543.0" stroke="#e95252" stroke-width="1" opacity="0.85"/>
<line x1="260.5" y1="544.4" x2="260.5" y2="539.3" stroke="#e95252" stroke-width="1" opacity="0.85"/>
<line x1="268.5" y1="544.4" x2="268.5" y2="534.8" stroke="#e95252" stroke-width="1" opacity="0.85"/>
<line x1="276.5" y1="544.4" x2="276.5" y2="531.6" stroke="#e95252" stroke-width="1" opacity="0.85"/>
<line x1="283.5" y1="544.4" x2="283.5" y2="533.6" stroke="#e95252" stroke-width="1" opacity="0.85"/>
<line x1="291.5" y1="544.4" x2="291.5" y2="533.6" stroke="#e95252" stroke-width="1" opacity="0.85"/>
<line x1="299.5" y1="544.4" x2="299.5" y2="534.8" stroke="#e95252" stroke-width="1" opacity="0.85"/>
<line x1="307.5" y1="544.4" x2="307.5" y2="537.3" stroke="#e95252" stroke-width="1" opacity="0.85"/>
<line x1="315.5" y1="544.4" x2="315.5" y2="541.8" stroke="#e95252" stroke-width="1" opacity="0.85"/>
<line x1="323.5" y1="544.4" x2="323.5" y2="547.0" stroke="#33923a" stroke-width="1" opacity="0.85"/>
<line x1="331.5" y1="544.4" x2="331.5" y2="551.5" stroke="#33923a" stroke-width="1" opacity="0.85"/>
<line x1="339.5" y1="544.4" x2="339.5" y2="561.7" stroke="#33923a" stroke-width="1" opacity="0.85"/>
<line x1="347.5" y1="544.4" x2="347.5" y2="570.3" stroke="#33923a" stroke-width="1" opacity="0.85"/>
<line x1="355.5" y1="544.4" x2="355.5" y2="571.9" stroke="#33923a" stroke-width="1" opacity="0.85"/>
<line x1="362.5" y1="544.4" x2="362.5" y2="583.1" stroke="#33923a" stroke-width="1" opacity="0.85"/>
<line x1="370.5" y1="544.4" x2="370.5" y2="586.6" stroke="#33923a" stroke-width="1" opacity="0.85"/>
<line x1="378.5" y1="544.4" x2="378.5" y2="578.4" stroke="#33923a" stroke-width="1" opacity="0.85"/>
<line x1="386.5" y1="544.4" x2="386.5" y2="576.4" stroke="#33923a" stroke-width="1" opacity="0.85"/>
<line x1="394.5" y1="544.4" x2="394.5" y2="583.1" stroke="#33923a" stroke-width="1" opacity="0.85"/>
<line x1="402.5" y1="544.4" x2="402.5" y2="590.0" stroke="#33923a" stroke-width="1" opacity="0.85"/>
<line x1="410.5" y1="544.4" x2="410.5" y2="590.0" stroke="#33923a" stroke-width="1" opacity="0.85"/>
<line x1="418.5" y1="544.4" x2="418.5" y2="590.0" stroke="#33923a" stroke-width="1" opacity="0.85"/>
<line x1="426.5" y1="544.4" x2="426.5" y2="582.1" stroke="#33923a" stroke-width="1" opacity="0.85"/>
<line x1="434.5" y1="544.4" x2="434.5" y2="571.9" stroke="#33923a" stroke-width="1" opacity="0.85"/>
<line x1="441.5" y1="544.4" x2="441.5" y2="558.0" stroke="#33923a" stroke-width="1" opacity="0.85"/>
<line x1="449.5" y1="544.4" x2="449.5" y2="549.9" stroke="#33923a" stroke-width="1" opacity="0.85"/>
<line x1="457.5" y1="544.4" x2="457.5" y2="541.8" stroke="#e95252" stroke-width="1" opacity="0.85"/>
<line x1="465.5" y1="544.4" x2="465.5" y2="535.2" stroke="#e95252" stroke-width="1" opacity="0.85"/>
<line x1="473.5" y1="544.4" x2="473.5" y2="530.8" stroke="#e95252" stroke-width="1" opacity="0.85"/>
<line x1="481.5" y1="544.4" x2="481.5" y2="537.3" stroke="#e95252" stroke-width="1" opacity="0.85"/>
<line x1="489.5" y1="544.4" x2="489.5" y2="540.3" stroke="#e95252" stroke-width="1" opacity="0.85"/>
<line x1="497.5" y1="544.4" x2="497.5" y2="537.3" stroke="#e95252" stroke-width="1" opacity="0.85"/>
<line x1="505.5" y1="544.4" x2="505.5" y2="540.3" stroke="#e95252" stroke-width="1" opacity="0.85"/>
<line x1="513.5" y1="544.4" x2="513.5" y2="545.8" stroke="#33923a" stroke-width="1" opacity="0.85"/>
<line x1="520.5" y1="544.4" x2="520.5" y2="549.5" stroke="#33923a" stroke-width="1" opacity="0.85"/>
<line x1="528.5" y1="544.4" x2="528.5" y2="549.1" stroke="#33923a" stroke-width="1" opacity="0.85"/>
<line x1="536.5" y1="544.4" x2="536.5" y2="549.1" stroke="#33923a" stroke-width="1" opacity="0.85"/>
<line x1="544.5" y1="544.4" x2="544.5" y2="549.1" stroke="#33923a" stroke-width="1" opacity="0.85"/>
<line x1="560.5" y1="544.4" x2="560.5" y2="536.3" stroke="#e95252" stroke-width="1" opacity="0.85"/>
<line x1="568.5" y1="544.4" x2="568.5" y2="526.1" stroke="#e95252" stroke-width="1" opacity="0.85"/>
<line x1="576.5" y1="544.4" x2="576.5" y2="520.6" stroke="#e95252" stroke-width="1" opacity="0.85"/>
<line x1="584.5" y1="544.4" x2="584.5" y2="518.5" stroke="#e95252" stroke-width="1" opacity="0.85"/>
<line x1="592.5" y1="544.4" x2="592.5" y2="515.3" stroke="#e95252" stroke-width="1" opacity="0.85"/>
<line x1="599.5" y1="544.4" x2="599.5" y2="512.8" stroke="#e95252" stroke-width="1" opacity="0.85"/>
<line x1="607.5" y1="544.4" x2="607.5" y2="514.9" stroke="#e95252" stroke-width="1" opacity="0.85"/>
<line x1="615.5" y1="544.4" x2="615.5" y2="513.8" stroke="#e95252" stroke-width="1" opacity="0.85"/>
<line x1="623.5" y1="544.4" x2="623.5" y2="518.5" stroke="#e95252" stroke-width="1" opacity="0.85"/>
<line x1="631.5" y1="544.4" x2="631.5" y2="519.3" stroke="#e95252" stroke-width="1" opacity="0.85"/>
<line x1="639.5" y1="544.4" x2="639.5" y2="522.0" stroke="#e95252" stroke-width="1" opacity="0.85"/>
<line x1="647.5" y1="544.4" x2="647.5" y2="527.1" stroke="#e95252" stroke-width="1" opacity="0.85"/>
<line x1="655.5" y1="544.4" x2="655.5" y2="535.2" stroke="#e95252" stroke-width="1" opacity="0.85"/>
<line x1="663.5" y1="544.4" x2="663.5" y2="537.3" stroke="#e95252" stroke-width="1" opacity="0.85"/>
<line x1="671.5" y1="544.4" x2="671.5" y2="543.0" stroke="#e95252" stroke-width="1" opacity="0.85"/>
<line x1="678.5" y1="544.4" x2="678.5" y2="541.8" stroke="#e95252" stroke-width="1" opacity="0.85"/>
<line x1="686.5" y1="544.4" x2="686.5" y2="539.3" stroke="#e95252" stroke-width="1" opacity="0.85"/>
<line x1="694.5" y1="544.4" x2="694.5" y2="540.3" stroke="#e95252" stroke-width="1" opacity="0.85"/>
<line x1="702.5" y1="544.4" x2="702.5" y2="541.8" stroke="#e95252" stroke-width="1" opacity="0.85"/>
<line x1="710.5" y1="544.4" x2="710.5" y2="543.0" stroke="#e95252" stroke-width="1" opacity="0.85"/>
<line x1="718.5" y1="544.4" x2="718.5" y2="546.4" stroke="#33923a" stroke-width="1" opacity="0.85"/>
<line x1="726.5" y1="544.4" x2="726.5" y2="549.9" stroke="#33923a" stroke-width="1" opacity="0.85"/>
<line x1="734.5" y1="544.4" x2="734.5" y2="559.3" stroke="#33923a" stroke-width="1" opacity="0.85"/>
<line x1="742.5" y1="544.4" x2="742.5" y2="565.8" stroke="#33923a" stroke-width="1" opacity="0.85"/>
<line x1="750.5" y1="544.4" x2="750.5" y2="567.4" stroke="#33923a" stroke-width="1" opacity="0.85"/>
<line x1="757.5" y1="544.4" x2="757.5" y2="565.8" stroke="#33923a" stroke-width="1" opacity="0.85"/>
<line x1="765.5" y1="544.4" x2="765.5" y2="571.5" stroke="#33923a" stroke-width="1" opacity="0.85"/>
<line x1="773.5" y1="544.4" x2="773.5" y2="573.9" stroke="#33923a" stroke-width="1" opacity="0.85"/>
<line x1="781.5" y1="544.4" x2="781.5" y2="582.5" stroke="#33923a" stroke-width="1" opacity="0.85"/>
<line x1="789.5" y1="544.4" x2="789.5" y2="584.1" stroke="#33923a" stroke-width="1" opacity="0.85"/>
<line x1="797.5" y1="544.4" x2="797.5" y2="576.0" stroke="#33923a" stroke-width="1" opacity="0.85"/>
<line x1="805.5" y1="544.4" x2="805.5" y2="569.5" stroke="#33923a" stroke-width="1" opacity="0.85"/>
<line x1="813.5" y1="544.4" x2="813.5" y2="566.2" stroke="#33923a" stroke-width="1" opacity="0.85"/>
<line x1="821.5" y1="544.4" x2="821.5" y2="562.7" stroke="#33923a" stroke-width="1" opacity="0.85"/>
<line x1="829.5" y1="544.4" x2="829.5" y2="555.2" stroke="#33923a" stroke-width="1" opacity="0.85"/>
<line x1="836.5" y1="544.4" x2="836.5" y2="549.9" stroke="#33923a" stroke-width="1" opacity="0.85"/>
<line x1="844.5" y1="544.4" x2="844.5" y2="543.0" stroke="#e95252" stroke-width="1" opacity="0.85"/>
<line x1="852.5" y1="544.4" x2="852.5" y2="538.3" stroke="#e95252" stroke-width="1" opacity="0.85"/>
<line x1="860.5" y1="544.4" x2="860.5" y2="532.8" stroke="#e95252" stroke-width="1" opacity="0.85"/>
<line x1="868.5" y1="544.4" x2="868.5" y2="530.8" stroke="#e95252" stroke-width="1" opacity="0.85"/>
<line x1="876.5" y1="544.4" x2="876.5" y2="529.1" stroke="#e95252" stroke-width="1" opacity="0.85"/>
<line x1="884.5" y1="544.4" x2="884.5" y2="529.1" stroke="#e95252" stroke-width="1" opacity="0.85"/>
<line x1="892.5" y1="544.4" x2="892.5" y2="529.5" stroke="#e95252" stroke-width="1" opacity="0.85"/>
<line x1="900.5" y1="544.4" x2="900.5" y2="533.6" stroke="#e95252" stroke-width="1" opacity="0.85"/>
<line x1="908.5" y1="544.4" x2="908.5" y2="532.8" stroke="#e95252" stroke-width="1" opacity="0.85"/>
<line x1="915.5" y1="544.4" x2="915.5" y2="530.8" stroke="#e95252" stroke-width="1" opacity="0.85"/>
<line x1="923.5" y1="544.4" x2="923.5" y2="529.5" stroke="#e95252" stroke-width="1" opacity="0.85"/>
<line x1="931.5" y1="544.4" x2="931.5" y2="529.9" stroke="#e95252" stroke-width="1" opacity="0.85"/>
<line x1="939.5" y1="544.4" x2="939.5" y2="530.4" stroke="#e95252" stroke-width="1" opacity="0.85"/>
<line x1="947.5" y1="544.4" x2="947.5" y2="530.9" stroke="#e95252" stroke-width="1" opacity="0.85"/>
<line x1="955.5" y1="544.4" x2="955.5" y2="531.4" stroke="#e95252" stroke-width="1" opacity="0.85"/>
<line x1="963.5" y1="544.4" x2="963.5" y2="531.4" stroke="#e95252" stroke-width="1" opacity="0.85"/>
<line x1="971.5" y1="544.4" x2="971.5" y2="531.2" stroke="#e95252" stroke-width="1" opacity="0.85"/>
<line x1="979.5" y1="544.4" x2="979.5" y2="532.4" stroke="#e95252" stroke-width="1" opacity="0.85"/>
<line x1="987.5" y1="544.4" x2="987.5" y2="533.9" stroke="#e95252" stroke-width="1" opacity="0.85"/>
<line x1="994.5" y1="544.4" x2="994.5" y2="535.2" stroke="#e95252" stroke-width="1" opacity="0.85"/>
<line x1="1002.5" y1="544.4" x2="1002.5" y2="535.2" stroke="#e95252" stroke-width="1" opacity="0.85"/>
<line x1="1010.5" y1="544.4" x2="1010.5" y2="539.4" stroke="#e95252" stroke-width="1" opacity="0.85"/>
<polyline points="0.0,503.0 20.4,500.6 50.9,501.6 71.3,504.6 94.1,512.4 110.0,507.7 130.4,507.7 149.7,510.7 165.4,506.7 180.9,499.5 195.6,495.5 205.1,499.0 212.5,503.5 220.4,509.7 228.5,510.7 236.7,508.7 244.2,507.7 252.6,505.0 259.7,502.2 268.2,498.5 275.8,496.1 283.9,494.9 291.7,494.0 299.8,493.0 308.0,493.0 315.5,494.9 323.6,498.1 331.4,501.6 339.5,509.7 347.1,517.9 355.2,521.3 362.6,531.1 371.1,539.3 378.9,539.3 386.4,542.9 394.1,550.5 402.3,559.0 409.8,565.5 418.3,573.2 425.5,572.9 434.0,571.4 442.4,565.7 449.5,561.7 458.1,557.6 465.6,553.1 473.7,549.4 481.5,551.1 489.6,552.5 497.2,550.5 505.3,551.1 512.6,555.1 520.8,558.0 528.3,557.2 536.5,558.0 544.2,558.6 552.4,556.0 560.9,551.1 568.5,542.3 576.6,536.8 584.4,532.7 592.5,528.7 599.6,522.8 608.2,519.9 615.5,516.4 623.8,515.2 631.6,512.4 639.3,509.3 647.3,510.3 655.4,513.2 662.7,513.4 670.9,516.4 678.8,515.2 686.6,513.4 695.1,512.4 702.5,513.2 711.0,513.4 718.1,516.4 726.7,519.9 734.0,526.0 742.2,532.1 749.7,535.2 757.9,537.2 765.4,543.7 773.8,547.4 781.3,558.0 789.4,563.3 797.0,563.3 805.3,563.3 812.9,565.3 821.0,565.3 829.5,562.1 836.7,560.0 845.2,556.6 852.6,552.5 860.7,548.4 868.6,545.8 876.4,543.3 884.1,541.7 892.7,540.3 899.8,541.3 908.0,538.2 915.7,535.2 923.9,532.7 940.0,527.0 960.9,520.9 971.7,520.5 979.3,519.3 987.4,520.5 995.6,519.9 1002.7,518.5 1010.4,517.3" fill="none" stroke="#333" stroke-width="1.05" stroke-linejoin="round" />
<polyline points="0.0,504.2 20.4,502.2 50.9,502.2 71.3,502.2 94.1,506.3 110.0,507.1 130.4,507.3 149.7,507.7 165.4,507.3 180.9,504.6 195.6,502.2 205.1,501.6 212.5,502.4 220.4,504.2 228.5,505.6 236.7,506.7 244.2,507.1 252.6,506.3 259.7,505.0 268.2,503.6 275.8,502.2 283.9,500.6 291.7,498.9 299.8,497.5 308.0,496.5 315.5,496.5 323.6,496.9 331.4,497.5 339.5,500.6 347.1,503.6 355.2,507.7 362.6,513.2 371.1,518.9 378.9,523.4 386.4,528.1 394.1,533.1 402.3,537.5 409.8,542.5 418.3,548.0 425.5,552.5 434.0,556.6 442.4,558.6 449.5,559.6 458.1,559.2 465.6,558.0 473.7,556.6 481.5,555.6 489.6,554.5 497.2,553.5 505.3,553.1 512.6,553.5 520.8,554.5 528.3,555.1 536.5,555.6 544.2,556.0 552.4,556.0 560.9,554.5 568.5,553.1 576.6,549.4 584.4,546.4 592.5,542.9 599.6,539.0 608.2,534.8 615.5,531.1 623.8,528.1 631.6,524.6 639.3,521.3 647.3,519.3 655.4,517.9 662.7,517.3 670.9,517.3 678.8,517.3 686.6,516.4 695.1,515.2 702.5,514.8 711.0,514.4 718.1,515.2 726.7,516.4 734.0,518.9 742.2,521.3 749.7,524.0 757.9,526.6 765.4,530.1 773.8,534.8 781.3,539.3 789.4,543.7 797.0,547.8 805.3,550.8 812.9,553.7 821.0,556.6 829.5,557.6 836.7,558.6 845.2,558.0 852.6,556.6 860.7,553.9 868.6,551.9 876.4,549.9 884.1,548.4 892.7,546.4 899.8,545.0 908.0,543.7 915.7,542.3 923.9,540.3 945.0,535.0 967.0,530.1 979.3,527.4 995.6,524.6 1010.4,522.6" fill="none" stroke="#ff10ff" stroke-width="1.05" stroke-linejoin="round" />
<text x="882.0" y="486" fill="#555" font-size="11" font-family="'Liberation Sans', 'Noto Sans CJK SC', sans-serif">改参数</text>
<text x="924.3" y="486" fill="#555" font-size="11" font-family="'Liberation Sans', 'Noto Sans CJK SC', sans-serif">加指标</text>
<text x="965.9" y="486" fill="#555" font-size="11" font-family="'Liberation Sans', 'Noto Sans CJK SC', sans-serif">换指标</text>
<rect x="1008.6" y="476" width="12.6" height="12.2" rx="1.8" fill="#fff" stroke="#a8a8a8" stroke-width="1"/>
<path d="M1011.7,478.9 L1018.1,485.3 M1018.1,478.9 L1011.7,485.3" stroke="#777" stroke-width="1" fill="none"/>
<text transform="scale(0.84,1)" x="1239.55 1246.04 1252.53 1259.02 1265.51 1271.99" y="496.9" fill="#6e6e6e" font-size="10.5" text-anchor="middle" >289.35</text>
<text transform="scale(0.84,1)" x="1246.04 1252.53 1259.02 1265.51 1271.99" y="530.2" fill="#6e6e6e" font-size="10.5" text-anchor="middle" >99.24</text>
<text transform="scale(0.84,1)" x="1239.55 1246.04 1252.53 1259.02 1265.51 1271.99" y="563.4" fill="#6e6e6e" font-size="10.5" text-anchor="middle" >-85.73</text>
<text transform="scale(0.84,1)" x="1233.07 1239.55 1246.04 1252.53 1259.02 1265.51 1271.99" y="589.6" fill="#6e6e6e" font-size="10.5" text-anchor="middle" >-275.83</text>
<g>
<circle cx="946" cy="540.4" r="22.4" fill="url(#gc)"/>
<path fill="url(#gy)" d="M933.7,558.0 C937,558.9 943,558.4 947.5,555.3 C951,553 956.5,547.5 958.8,543.5 C960.5,540.5 961.2,537 959.6,534.3 C958.6,532.6 957.2,531.7 955.6,531.6 C955,529.5 953,528.6 951.2,528.9 C950,526.8 947,525.9 945,526.3 C942.5,525.4 939.8,526.8 939.0,529.3 C937,529.5 935.3,531.4 935.3,533.6 C933.3,534.7 932.3,537.2 932.7,539.5 C933.0,543.5 935.5,546.6 938.7,547.9 C942,549.3 945.9,548.7 947.8,546.2 C949.6,543.9 949.2,540.9 947.0,539.6 C945.2,538.5 943.2,539.3 942.6,541.0 C941.0,539.0 942.3,536.7 944.7,536.0 C947.5,535.2 950.6,537.0 951.5,540.2 C952.4,543.7 951.2,547.3 948.6,550.3 C945.5,553.9 940,556.6 933.7,558.0 Z"/>
<text x="972.7" y="547.6" fill="#a9a9a9" fill-opacity="0.95" stroke="#a9a9a9" stroke-width="0.7" stroke-opacity="0.95" font-size="30" font-weight="900" letter-spacing="2.8" font-family="'Liberation Serif', 'Noto Serif CJK SC', serif">中金网</text>
<text transform="translate(974.8,561.7) scale(1.245,1)" x="0" y="0" fill="#a9a9a9" font-size="8.5" letter-spacing="0.25" font-family="'Liberation Sans', sans-serif">CNGOLD.COM.CN</text>
<text x="925.6" y="576.0" fill="#a3a3a3" font-size="11.4" letter-spacing="9.3" font-family="'Liberation Sans', 'Noto Sans CJK SC', sans-serif">中文财经新媒体</text>
</g>
</svg></div>
</body></html>
